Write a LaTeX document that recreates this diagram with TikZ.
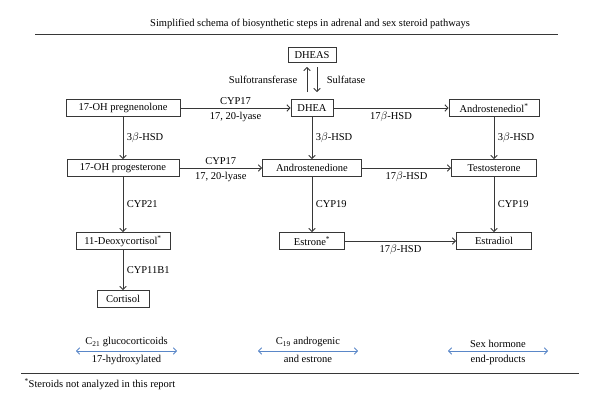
\documentclass[tikz,border=0pt]{standalone}
\usepackage{fontspec}
\setmainfont{Liberation Serif}
\usepackage{tikz}
\usetikzlibrary{arrows.meta, positioning, calc}
\definecolor{linegray}{RGB}{55,55,55}
\definecolor{groupblue}{RGB}{90,135,200}

\begin{document}
\begin{tikzpicture}[x=1pt,y=-1pt,->,>={Straight Barb[length=3pt,width=6.5pt]},auto,on grid,
  font=\fontsize{10.5}{12.5}\selectfont,
  every edge/.append style={draw=linegray,line width=0.9pt},
  sq node/.style={rectangle,draw=linegray,line width=1pt,minimum height=17pt,inner sep=0pt},
  rule/.style={-,draw=linegray,line width=0.9pt},
  group arrow/.style={<->,draw=groupblue,line width=0.9pt}]
  \useasboundingbox (0,0) rectangle (600,410);
  \node (title) at (310,24) {Simplified schema of biosynthetic steps in adrenal and sex steroid pathways};
  \draw[rule] (35,34) -- (558,34);

  \node[sq node, minimum width=114pt] (preg) at (123,108) {17-OH pregnenolone};
  \node[sq node, minimum width=42pt, right=189pt of preg] (dhea) {DHEA};
  \node[sq node, minimum width=90pt, right=182pt of dhea] (adiol) {Androstenediol\textsuperscript{*}};
  \node[sq node, minimum width=48pt, minimum height=15pt, above=53pt of dhea] (dheas) {DHEAS};
  \node[sq node, minimum width=112pt, below=60pt of preg] (prog) {17-OH progesterone};
  \node[sq node, minimum width=99pt, below=60pt of dhea] (adione) {Androstenedione};
  \node[sq node, minimum width=85pt, below=60pt of adiol] (testo) {Testosterone};
  \node[sq node, minimum width=94pt, below=73pt of prog] (deoxy) {11-Deoxycortisol\textsuperscript{*}};
  \node[sq node, minimum width=65pt, below=73pt of adione] (estrone) {Estrone\textsuperscript{*}};
  \node[sq node, minimum width=75pt, below=73pt of testo] (estradiol) {Estradiol};
  \node[sq node, minimum width=52pt, below=58pt of deoxy] (cortisol) {Cortisol};

  \path
    (preg) edge node {CYP17} node[swap] {17, 20-lyase} (dhea)
    (prog) edge node {CYP17} node[swap] {17, 20-lyase} (adione)
    (dhea) edge node[swap] {17$\beta$-HSD} (adiol)
    (adione) edge node[swap] {17$\beta$-HSD} (testo)
    (estrone) edge node[swap] {17$\beta$-HSD} (estradiol)
    (preg) edge node {3$\beta$-HSD} (prog)
    (dhea) edge node {3$\beta$-HSD} (adione)
    (adiol) edge node {3$\beta$-HSD} (testo)
    (prog) edge node {CYP21} (deoxy)
    (deoxy) edge node {CYP11B1} (cortisol)
    (adione) edge node {CYP19} (estrone)
    (testo) edge node {CYP19} (estradiol)
    ([xshift=-5pt,yshift=7pt]dhea.north) edge node[swap, left=6pt] {Sulfotransferase} ([xshift=-5pt,yshift=-4pt]dheas.south)
    ([xshift=5pt,yshift=-4pt]dheas.south) edge node[swap, right=6pt] {Sulfatase} ([xshift=5pt,yshift=7pt]dhea.north);

  % groups of steroids
  \coordinate (c21 left) at (76,351);
  \coordinate (c21 right) at (177,351);
  \coordinate (c19 left) at (258,351);
  \coordinate (c19 right) at (358,351);
  \coordinate (sex left) at (448,351);
  \coordinate (sex right) at (548,351);
  \draw[group arrow] (c21 left) -- node[above] {C\textsubscript{21} glucocorticoids} node[below] {17-hydroxylated} (c21 right);
  \draw[group arrow] (c19 left) -- node[above] {C\textsubscript{19} androgenic} node[below] {and estrone} (c19 right);
  \draw[group arrow] (sex left) -- node[above] {Sex hormone} node[below] {end-products} (sex right);

  \draw[rule] (21,373) -- (579,373);
  \node[anchor=west] (note) at (21,384) {\textsuperscript{*}Steroids not analyzed in this report};
\end{tikzpicture}
\end{document}
